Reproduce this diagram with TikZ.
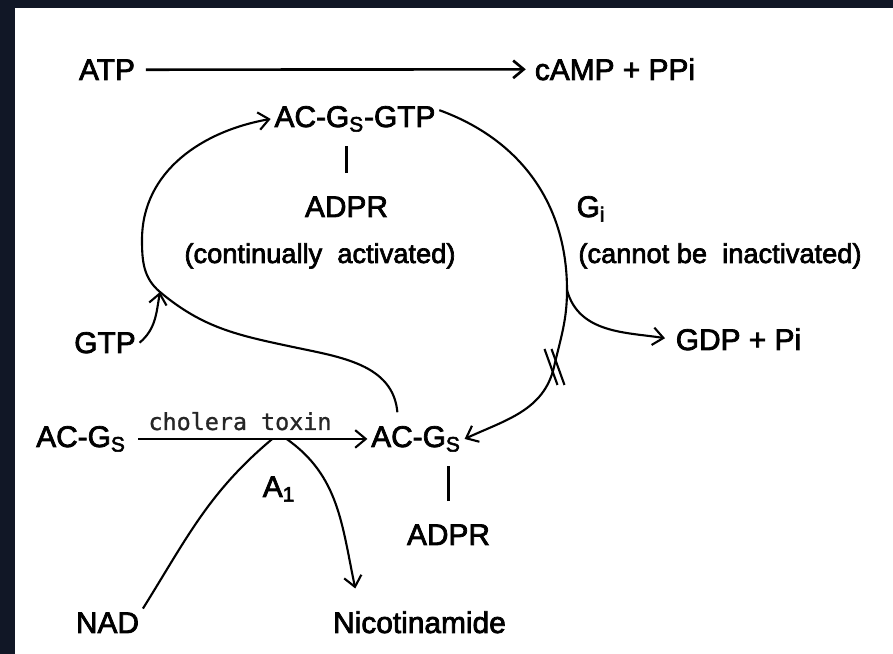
\documentclass[tikz,border=0pt]{standalone}
\usepackage{fontspec}
\setmainfont{Liberation Sans}[FakeBold=2.5]
\newfontfamily\toxinfont{DejaVu Sans Mono}[FakeBold=1]
\usetikzlibrary{arrows.meta}
\definecolor{bgdark}{HTML}{111726}

\begin{document}
\begin{tikzpicture}[
        lbl/.style={font=\fontsize{17}{20}\selectfont, anchor=base, inner sep=2pt},
        note/.style={font=\fontsize{15.5}{18}\selectfont, anchor=base, inner sep=2pt},
        rxn/.style={line width=1.2pt, -{Straight Barb[length=6pt,width=10pt]}},
        link/.style={line width=1.2pt, shorten <=11pt, shorten >=6pt}
    ]
        \fill[bgdark] (0,0) rectangle (17.86,13.08);
        \fill[white] (0.3,0) rectangle (17.86,12.92);

        \node[lbl] (atp) at (2.14,11.48) {ATP};
        \node[lbl] (camp) at (12.30,11.48) {cAMP + PPi};
        \draw[rxn, line width=1.5pt, shorten <=4pt, shorten >=3pt] (atp.east) -- (camp.west);

        \node[lbl] (gtpc) at (7.10,10.54) {AC-G\textsubscript{S}-GTP};
        \node[lbl] (adpr1) at (6.93,8.74) {ADPR};
        \node[note] (cont) at (6.40,7.82) {(continually~~activated)};
        \draw[link] (adpr1.north) -- (adpr1.north |- gtpc.south);

        \node[lbl] (gi) at (11.82,8.74) {G\textsubscript{i}};
        \node[note] (inact) at (14.40,7.82) {(cannot be~~inactivated)};
        \node[lbl] (gdp) at (14.77,6.08) {GDP + Pi};
        \node[lbl] (gtp) at (2.10,6.02) {GTP};

        \node[lbl] (acgs) at (1.62,4.14) {AC-G\textsubscript{S}};
        \node[lbl] (acgs2) at (8.32,4.14) {AC-G\textsubscript{S}};
        \node[anchor=base, font=\toxinfont\fontsize{13.3}{16}\selectfont, black!85] (tox) at (4.80,4.48) {cholera toxin};
        \node[lbl] (a1) at (5.58,3.14) {A\textsubscript{1}};
        \node[lbl] (adpr2) at (8.97,2.18) {ADPR};
        \draw[link] (adpr2.north) -- (adpr2.north |- acgs2.south);

        \node[lbl] (nad) at (2.15,0.42) {NAD};
        \node[lbl] (nic) at (8.39,0.42) {Nicotinamide};

        \coordinate (join) at (3.20,7.24);
        \coordinate (split) at (11.34,7.28);
        \coordinate (cut) at (11.08,5.74);

        % cholera toxin step, NAD in and nicotinamide out
        \draw[rxn, shorten <=5pt] (acgs.east) -- coordinate[pos=0.6] (nadin) coordinate[pos=0.66] (nicout) (acgs2.west);
        \draw[line width=1.2pt] (nad.north east) to[out=58,in=-140] (nadin);
        \draw[rxn] (nicout) to[out=-35,in=102] ([shift={(0.52,0.38)}]nic.north west);

        % left loop back to the GTP form
        \draw[rxn] ([shift={(0.6,0.2)}]acgs2.north west) to[out=95,in=-12] (5.86,6.14)
            to[out=168,in=-40] (join) to[out=140,in=-90] (2.84,8.28) to[out=90,in=190] (gtpc.west);
        \draw[rxn] (gtp.east) to[out=40,in=-100] (join);

        % right loop, blocked
        \draw[rxn] ([yshift=5pt]gtpc.east) to[out=-20,in=90] (split) to[out=-90,in=77] (cut)
            to[out=-103,in=25] (acgs2.east);
        \draw[rxn, shorten >=4pt] (split) to[out=-75,in=171] (gdp.west);
        \foreach \dx in {-0.19,-0.05}
            \draw[line width=1.2pt] ([shift={(\dx,0.36)}]cut) -- ++(0.26,-0.72);
\end{tikzpicture}
\end{document}
